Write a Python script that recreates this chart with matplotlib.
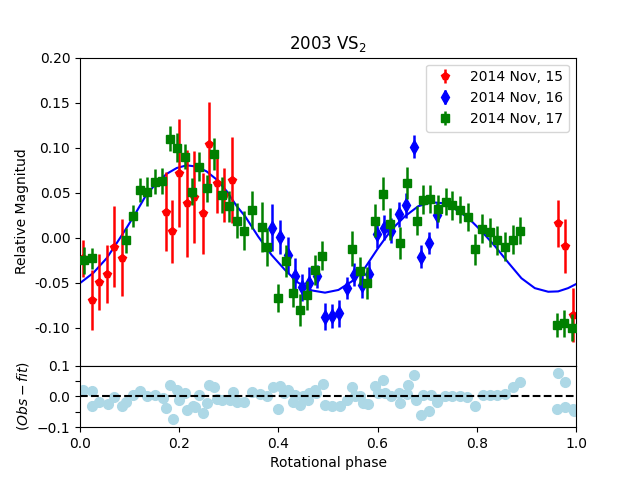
import matplotlib
matplotlib.use("Agg")
import matplotlib.pyplot as plt
from matplotlib.ticker import FixedLocator, FixedFormatter

# ---------------- data ----------------
# Nov 15 (red)
ph15 = [0.007, 0.025, 0.039, 0.055, 0.069, 0.085, 0.173, 0.186, 0.200, 0.215,
        0.230, 0.247, 0.260, 0.276, 0.290, 0.307, 0.964, 0.978, 0.993]
mag15 = [-0.023, -0.069, -0.049, -0.040, -0.010, -0.022, 0.029, 0.007, 0.072, 0.038,
         0.045, 0.027, 0.104, 0.061, 0.047, 0.064, 0.016, -0.009, -0.086]
err15 = [0.021, 0.033, 0.031, 0.032, 0.045, 0.043, 0.044, 0.035, 0.060, 0.059,
         0.051, 0.045, 0.047, 0.033, 0.030, 0.048, 0.026, 0.030, 0.030]

# Nov 16 (blue)
ph16 = [0.388, 0.404, 0.419, 0.433, 0.448, 0.462, 0.478, 0.493, 0.508, 0.522,
        0.539, 0.553, 0.569, 0.583, 0.599, 0.613, 0.628, 0.644, 0.657, 0.673,
        0.688, 0.704, 0.719]
mag16 = [0.011, 0.001, -0.019, -0.043, -0.055, -0.050, -0.043, -0.088, -0.087, -0.084,
         -0.056, -0.041, -0.053, -0.040, 0.004, 0.011, 0.008, 0.026, 0.036, 0.101,
         -0.021, -0.006, 0.025]
err16 = [0.026, 0.019, 0.020, 0.020, 0.015, 0.017, 0.013, 0.015, 0.013, 0.015,
         0.012, 0.013, 0.014, 0.014, 0.015, 0.014, 0.014, 0.014, 0.014, 0.013,
         0.013, 0.012, 0.014]

# Nov 17 (green)
ph17 = [0.008, 0.024, 0.092, 0.106, 0.121, 0.136, 0.151, 0.166, 0.181, 0.196,
        0.212, 0.226, 0.240, 0.256, 0.271, 0.286, 0.301, 0.317, 0.331, 0.347,
        0.366, 0.378, 0.400, 0.415, 0.430, 0.444, 0.458, 0.474, 0.488, 0.549,
        0.565, 0.579, 0.595, 0.610, 0.625, 0.646, 0.659, 0.679, 0.691, 0.706,
        0.722, 0.737, 0.751, 0.766, 0.782, 0.797, 0.810, 0.827, 0.841, 0.857,
        0.872, 0.888, 0.961, 0.976, 0.991]
mag17 = [-0.025, -0.023, -0.003, 0.024, 0.053, 0.051, 0.062, 0.063, 0.110, 0.100,
         0.090, 0.051, 0.079, 0.055, 0.093, 0.047, 0.035, 0.019, 0.008, 0.031,
         0.012, -0.010, -0.067, -0.026, -0.061, -0.080, -0.064, -0.036, -0.020, -0.012,
         -0.037, -0.050, 0.019, 0.049, 0.015, -0.006, 0.061, 0.019, 0.042, 0.043,
         0.032, 0.040, 0.036, 0.031, 0.023, -0.013, 0.010, 0.006, -0.003, -0.010,
         -0.002, 0.008, -0.097, -0.095, -0.100]
err17 = [0.015, 0.012, 0.014, 0.012, 0.013, 0.016, 0.014, 0.014, 0.014, 0.016,
         0.014, 0.015, 0.016, 0.015, 0.018, 0.020, 0.017, 0.019, 0.022, 0.021,
         0.028, 0.021, 0.016, 0.018, 0.016, 0.018, 0.016, 0.017, 0.016, 0.019,
         0.016, 0.018, 0.018, 0.018, 0.018, 0.018, 0.018, 0.016, 0.016, 0.016,
         0.015, 0.015, 0.016, 0.015, 0.016, 0.017, 0.016, 0.016, 0.016, 0.016,
         0.016, 0.015, 0.013, 0.015, 0.015]

# Fit curve samples
fit_ph = [0.000, 0.027, 0.054, 0.074, 0.094, 0.114, 0.134, 0.155, 0.175, 0.195,
          0.215, 0.235, 0.255, 0.276, 0.296, 0.316, 0.333, 0.359, 0.386, 0.413,
          0.440, 0.467, 0.494, 0.521, 0.548, 0.575, 0.601, 0.628, 0.655, 0.682,
          0.709, 0.729, 0.756, 0.783, 0.810, 0.837, 0.864, 0.890, 0.917, 0.944,
          0.964, 0.984, 1.000]
fit_mag = [-0.0504, -0.039, -0.0226, -0.006, 0.011, 0.029, 0.048, 0.061, 0.071, 0.0774,
           0.0804, 0.079, 0.0737, 0.0644, 0.0515, 0.035, 0.0237, 0.0015, -0.019, -0.0356,
           -0.050, -0.0585, -0.061, -0.058, -0.0485, -0.033, -0.0115, 0.009, 0.0237, 0.035,
           0.0393, 0.0385, 0.0319, 0.0219, 0.007, -0.0096, -0.028, -0.045, -0.056, -0.060,
           -0.0596, -0.056, -0.0515]

# Residuals (Obs - fit)
res_ph = [0.007, 0.024, 0.025, 0.039, 0.056, 0.069, 0.085, 0.092, 0.106, 0.121,
          0.136, 0.152, 0.167, 0.173, 0.181, 0.187, 0.196, 0.200, 0.212, 0.215,
          0.227, 0.232, 0.240, 0.247, 0.256, 0.261, 0.271, 0.276, 0.286, 0.302,
          0.308, 0.317, 0.331, 0.347, 0.363, 0.378, 0.390, 0.400, 0.404, 0.411,
          0.419, 0.430, 0.434, 0.444, 0.450, 0.459, 0.462, 0.474, 0.476, 0.489,
          0.493, 0.509, 0.524, 0.539, 0.549, 0.554, 0.565, 0.570, 0.581, 0.595,
          0.601, 0.610, 0.615, 0.627, 0.644, 0.646, 0.659, 0.662, 0.674, 0.677,
          0.688, 0.692, 0.704, 0.707, 0.719, 0.721, 0.736, 0.751, 0.766, 0.781,
          0.796, 0.812, 0.827, 0.841, 0.857, 0.872, 0.887, 0.963, 0.962, 0.978,
          0.978, 0.993, 0.995]
res_val = [0.022, 0.017, -0.030, -0.019, -0.025, -0.002, -0.030, -0.017, 0.003, 0.018,
           0.000, 0.006, -0.004, -0.039, 0.037, -0.072, 0.022, -0.011, 0.012, -0.045,
           -0.030, -0.036, 0.003, -0.055, -0.022, 0.037, 0.029, -0.008, -0.013, -0.013,
           0.015, -0.019, -0.019, 0.015, 0.009, 0.001, 0.029, -0.042, 0.034, 0.012,
           0.022, -0.019, 0.006, -0.028, 0.000, -0.011, 0.012, 0.020, 0.012, 0.039,
           -0.028, -0.030, -0.030, -0.011, 0.029, 0.000, 0.000, -0.022, -0.025, 0.034,
           0.012, 0.054, 0.012, 0.000, 0.012, -0.022, 0.009, 0.037, 0.071, -0.013,
           -0.061, 0.006, -0.047, 0.003, -0.019, -0.008, 0.001, 0.001, 0.001, -0.002,
           -0.030, 0.003, 0.006, 0.006, 0.009, 0.029, 0.046, 0.076, -0.042, 0.048,
           -0.036, -0.042, -0.049]

labels = ["2014 Nov, 15", "2014 Nov, 16", "2014 Nov, 17"]

# ---------------- plot ----------------
fig = plt.figure(figsize=(6.4, 4.8), dpi=100)
gs = fig.add_gridspec(2, 1, height_ratios=[5, 1], hspace=0.0,
                      left=0.125, right=0.9, top=0.88, bottom=0.11)
ax = fig.add_subplot(gs[0])
axr = fig.add_subplot(gs[1], sharex=ax)

ax.plot(fit_ph, fit_mag, color="blue", lw=1.5, zorder=1)
ax.errorbar(ph15, mag15, yerr=err15, fmt="p", color="red", ms=6, elinewidth=1.8,
            label=labels[0], zorder=2)
ax.errorbar(ph16, mag16, yerr=err16, fmt="d", color="blue", ms=7, elinewidth=1.8,
            label=labels[1], zorder=3)
ax.errorbar(ph17, mag17, yerr=err17, fmt="s", color="green", ms=6, elinewidth=1.8,
            label=labels[2], zorder=4)

ax.set_xlim(0, 1)
ax.set_ylim(-0.142, 0.2)
ax.set_yticks([-0.10, -0.05, 0.00, 0.05, 0.10, 0.15, 0.20])
ax.yaxis.set_major_formatter(plt.FormatStrFormatter("%.2f"))
ax.set_ylabel("Relative Magnitud")
ax.set_title("2003 VS$_2$")
ax.tick_params(axis="x", which="both", bottom=False, labelbottom=False)
ax.legend(loc="upper right")

axr.plot(res_ph, res_val, "o", color="lightblue", ms=7)
axr.axhline(0.0, color="black", ls="--", lw=1.5)
axr.set_ylim(-0.1, 0.1)
axr.yaxis.set_major_locator(FixedLocator([-0.1, -0.05, 0.0, 0.05, 0.1]))
axr.yaxis.set_major_formatter(FixedFormatter(["\u22120.1", "", "0.0", "", "0.1"]))
axr.set_xticks([0.0, 0.2, 0.4, 0.6, 0.8, 1.0])
axr.set_xlim(0, 1)
axr.set_ylabel("$(Obs-fit)$")
axr.set_xlabel("Rotational phase")

fig.savefig("out.png", dpi=100)
